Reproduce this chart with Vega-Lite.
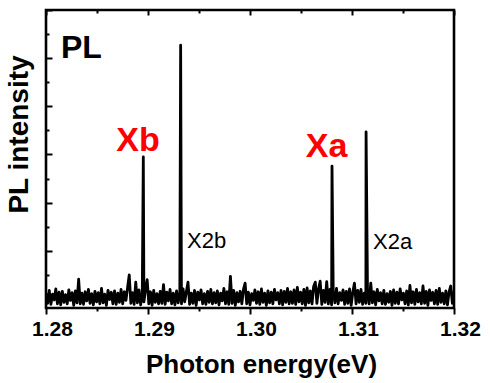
{
"$schema": "https://vega.github.io/schema/vega-lite/v6.json",
"width": 408, "height": 298,
"autosize": {"type": "none"},
"padding": {"left": 46, "top": 10, "right": 36, "bottom": 75},
"background": "white",
"config": {"view": {"stroke": "black", "strokeWidth": 2.6}, "font": "Liberation Sans"},
"datasets": {
"spec": [
{"e":1.28,"v":0.12},{"e":1.28016,"v":-0.09},{"e":1.28032,"v":0.18},{"e":1.28048,"v":-0.11},{"e":1.28064,"v":0.10},{"e":1.2808,"v":-0.02},{"e":1.28096,"v":0.21},{"e":1.28112,"v":-0.1},{"e":1.28128,"v":0.14},{"e":1.28144,"v":-0.12},
{"e":1.2816,"v":0.16},{"e":1.28176,"v":-0.07},{"e":1.28192,"v":0.09},{"e":1.28208,"v":-0.1},{"e":1.28224,"v":0.19},{"e":1.2824,"v":-0.03},{"e":1.28256,"v":0.13},{"e":1.28272,"v":-0.13},{"e":1.28288,"v":0.17},{"e":1.28304,"v":-0.08},
{"e":1.2832,"v":0.41},{"e":1.28336,"v":-0.1},{"e":1.28352,"v":0.12},{"e":1.28368,"v":-0.11},{"e":1.28384,"v":0.15},{"e":1.284,"v":-0.04},{"e":1.28416,"v":0.2},{"e":1.28432,"v":-0.09},{"e":1.28448,"v":0.11},{"e":1.28464,"v":-0.12},
{"e":1.2848,"v":0.16},{"e":1.28496,"v":-0.06},{"e":1.28512,"v":0.13},{"e":1.28528,"v":-0.1},{"e":1.28544,"v":0.22},{"e":1.2856,"v":-0.08},{"e":1.28576,"v":0.1},{"e":1.28592,"v":-0.13},{"e":1.28608,"v":0.18},{"e":1.28624,"v":-0.01},
{"e":1.2864,"v":0.14},{"e":1.28656,"v":-0.1},{"e":1.28672,"v":0.17},{"e":1.28688,"v":-0.11},{"e":1.28704,"v":0.12},{"e":1.2872,"v":-0.07},{"e":1.28736,"v":0.2},{"e":1.28752,"v":-0.1},{"e":1.28768,"v":0.15},{"e":1.28784,"v":-0.03},
{"e":1.288,"v":0.24},{"e":1.28816,"v":0.5},{"e":1.28832,"v":-0.09},{"e":1.28848,"v":0.13},{"e":1.28864,"v":-0.11},{"e":1.2888,"v":0.35},{"e":1.28896,"v":-0.08},{"e":1.28912,"v":0.19},{"e":1.28928,"v":-0.12},{"e":1.28944,"v":0.12},
{"e":1.28954,"v":2.95},
{"e":1.2896,"v":-0.06},{"e":1.28976,"v":0.2},{"e":1.28992,"v":0.4},{"e":1.29008,"v":-0.1},{"e":1.29024,"v":0.15},{"e":1.2904,"v":-0.13},{"e":1.29056,"v":0.18},{"e":1.29072,"v":-0.07},{"e":1.29088,"v":0.11},{"e":1.29104,"v":-0.1},
{"e":1.2912,"v":0.16},{"e":1.29136,"v":-0.09},{"e":1.29152,"v":0.3},{"e":1.29168,"v":-0.11},{"e":1.29184,"v":0.14},{"e":1.292,"v":-0.04},{"e":1.29216,"v":0.2},{"e":1.29232,"v":-0.1},{"e":1.29248,"v":0.12},{"e":1.29264,"v":-0.12},
{"e":1.2928,"v":0.17},{"e":1.29296,"v":-0.08},{"e":1.29312,"v":0.13},
{"e":1.2932,"v":5.27},
{"e":1.29328,"v":-0.1},{"e":1.29344,"v":0.21},{"e":1.2936,"v":-0.06},{"e":1.29376,"v":0.15},{"e":1.29392,"v":0.35},{"e":1.29408,"v":-0.11},{"e":1.29424,"v":0.12},
{"e":1.2944,"v":-0.09},{"e":1.29456,"v":0.18},{"e":1.29472,"v":-0.13},{"e":1.29488,"v":0.14},{"e":1.29504,"v":-0.02},{"e":1.2952,"v":0.19},{"e":1.29536,"v":-0.1},{"e":1.29552,"v":0.11},{"e":1.29568,"v":-0.11},{"e":1.29584,"v":0.16},
{"e":1.296,"v":-0.07},{"e":1.29616,"v":0.2},{"e":1.29632,"v":-0.1},{"e":1.29648,"v":0.13},{"e":1.29664,"v":-0.08},{"e":1.2968,"v":0.17},{"e":1.29696,"v":-0.12},{"e":1.29712,"v":0.12},{"e":1.29728,"v":-0.04},{"e":1.29744,"v":0.22},
{"e":1.2976,"v":-0.1},{"e":1.29776,"v":0.15},{"e":1.29792,"v":-0.11},{"e":1.29808,"v":0.47},{"e":1.29824,"v":-0.09},{"e":1.2984,"v":0.18},{"e":1.29856,"v":-0.13},{"e":1.29872,"v":0.13},{"e":1.29888,"v":-0.06},{"e":1.29904,"v":0.16},
{"e":1.2992,"v":-0.1},{"e":1.29936,"v":0.2},{"e":1.29952,"v":0.33},{"e":1.29968,"v":-0.1},{"e":1.29984,"v":0.14},{"e":1.3,"v":-0.12},{"e":1.30016,"v":0.11},{"e":1.30032,"v":-0.03},{"e":1.30048,"v":0.19},{"e":1.30064,"v":-0.09},
{"e":1.3008,"v":0.15},{"e":1.30096,"v":-0.11},{"e":1.30112,"v":0.21},{"e":1.30128,"v":-0.07},{"e":1.30144,"v":0.12},{"e":1.3016,"v":-0.13},{"e":1.30176,"v":0.17},{"e":1.30192,"v":-0.08},{"e":1.30208,"v":0.14},{"e":1.30224,"v":-0.1},
{"e":1.3024,"v":0.2},{"e":1.30256,"v":-0.02},{"e":1.30272,"v":0.13},{"e":1.30288,"v":-0.1},{"e":1.30304,"v":0.18},{"e":1.3032,"v":-0.12},{"e":1.30336,"v":0.16},{"e":1.30352,"v":-0.07},{"e":1.30368,"v":0.22},{"e":1.30384,"v":-0.1},
{"e":1.304,"v":0.15},{"e":1.30416,"v":-0.09},{"e":1.30432,"v":0.19},{"e":1.30448,"v":-0.11},{"e":1.30464,"v":0.24},{"e":1.3048,"v":-0.06},{"e":1.30496,"v":0.14},{"e":1.30512,"v":-0.1},{"e":1.30528,"v":0.2},{"e":1.30544,"v":-0.13},
{"e":1.3056,"v":0.23},{"e":1.30576,"v":-0.08},{"e":1.30592,"v":0.17},{"e":1.30608,"v":-0.1},{"e":1.30624,"v":0.26},{"e":1.3064,"v":0.35},{"e":1.30656,"v":-0.09},{"e":1.30672,"v":0.21},{"e":1.30688,"v":0.37},{"e":1.30704,"v":-0.11},
{"e":1.3072,"v":0.18},{"e":1.30736,"v":-0.07},{"e":1.30752,"v":0.36},{"e":1.30768,"v":-0.1},{"e":1.30784,"v":0.2},{"e":1.308,"v":-0.12},
{"e":1.30804,"v":2.76},
{"e":1.30816,"v":0.15},{"e":1.30832,"v":-0.08},{"e":1.30848,"v":0.22},{"e":1.30864,"v":-0.1},
{"e":1.3088,"v":0.13},{"e":1.30896,"v":-0.03},{"e":1.30912,"v":0.19},{"e":1.30928,"v":-0.11},{"e":1.30944,"v":0.16},{"e":1.3096,"v":-0.09},{"e":1.30976,"v":0.21},{"e":1.30992,"v":-0.13},{"e":1.31008,"v":0.14},{"e":1.31024,"v":0.33},
{"e":1.3104,"v":-0.1},{"e":1.31056,"v":0.18},{"e":1.31072,"v":-0.07},{"e":1.31088,"v":0.2},{"e":1.31104,"v":-0.11},{"e":1.3112,"v":0.12},{"e":1.31136,"v":-0.09},
{"e":1.31138,"v":3.47},
{"e":1.31152,"v":0.17},{"e":1.31168,"v":-0.1},{"e":1.31184,"v":0.33},
{"e":1.312,"v":-0.08},{"e":1.31216,"v":0.15},{"e":1.31232,"v":-0.12},{"e":1.31248,"v":0.2},{"e":1.31264,"v":-0.04},{"e":1.3128,"v":0.13},{"e":1.31296,"v":-0.1},{"e":1.31312,"v":0.18},{"e":1.31328,"v":-0.11},{"e":1.31344,"v":0.11},
{"e":1.3136,"v":-0.07},{"e":1.31376,"v":0.16},{"e":1.31392,"v":-0.13},{"e":1.31408,"v":0.19},{"e":1.31424,"v":-0.09},{"e":1.3144,"v":0.14},{"e":1.31456,"v":-0.1},{"e":1.31472,"v":0.21},{"e":1.31488,"v":-0.02},{"e":1.31504,"v":0.12},
{"e":1.3152,"v":-0.1},{"e":1.31536,"v":0.17},{"e":1.31552,"v":-0.12},{"e":1.31568,"v":0.28},{"e":1.31584,"v":-0.08},{"e":1.316,"v":0.15},{"e":1.31616,"v":-0.11},{"e":1.31632,"v":0.2},{"e":1.31648,"v":-0.06},{"e":1.31664,"v":0.13},
{"e":1.3168,"v":-0.1},{"e":1.31696,"v":0.27},{"e":1.31712,"v":-0.09},{"e":1.31728,"v":0.16},{"e":1.31744,"v":-0.13},{"e":1.3176,"v":0.19},{"e":1.31776,"v":-0.03},{"e":1.31792,"v":0.14},{"e":1.31808,"v":-0.1},{"e":1.31824,"v":0.18},
{"e":1.3184,"v":-0.11},{"e":1.31856,"v":0.22},{"e":1.31872,"v":-0.07},{"e":1.31888,"v":0.12},{"e":1.31904,"v":-0.1},{"e":1.3192,"v":0.17},{"e":1.31936,"v":-0.12},{"e":1.31952,"v":0.15},{"e":1.31968,"v":0.27},{"e":1.31984,"v":-0.09},
{"e":1.32,"v":0.16}
],
"red": [{"e":1.28902,"v":3.07,"t":"Xb"},{"e":1.3075,"v":2.95,"t":"Xa"}],
"blk": [{"e":1.293824,"v":1.06,"t":"X2b"},{"e":1.312059,"v":1.04,"t":"X2a"}],
"pl": [{"e":1.28147,"v":5.0,"t":"PL"}]
},
"layer": [
{"data": {"name": "spec"},
 "mark": {"type": "line", "color": "black", "strokeWidth": 2.8, "clip": true, "strokeJoin": "round"},
 "encoding": {
  "x": {"field": "e", "type": "quantitative",
   "scale": {"domain": [1.28, 1.32], "nice": false, "zero": false},
   "axis": {"orient": "bottom", "values": [1.28,1.285,1.29,1.295,1.3,1.305,1.31,1.315,1.32],
    "labelExpr": "round(datum.value*1000) % 10 === 0 ? format(datum.value, '.2f') : ''",
    "labelFont": "Liberation Sans", "labelFontSize": 21, "labelFontWeight": "bold", "labelColor": "black",
    "labelFlush": false, "labelPadding": 4, "labelOffset": 6,
    "tickSize": {"condition": {"test": "round(datum.value*1000) % 10 === 0", "value": 6}, "value": 3},
    "tickWidth": 2, "tickColor": "black", "domain": false, "grid": false,
    "title": "Photon energy(eV)", "titleFont": "Liberation Sans", "titleFontSize": 26, "titleFontWeight": "bold",
    "titleColor": "black", "titlePadding": 12, "titleX": 215}},
  "y": {"field": "v", "type": "quantitative",
   "scale": {"domain": [-0.187, 6], "nice": false, "zero": false},
   "axis": {"orient": "left", "values": [0,0.5,1,1.5,2,2.5,3,3.5,4,4.5,5,5.5,6], "labels": false,
    "tickSize": {"condition": {"test": "datum.value % 1 === 0", "value": -6}, "value": -3},
    "tickWidth": 2, "tickColor": "black", "domain": false, "grid": false,
    "title": "PL intensity", "titleFont": "Liberation Sans", "titleFontSize": 28, "titleFontWeight": "bold",
    "titleColor": "black", "titlePadding": 12, "titleY": 124}}
 }},
{"data": {"name": "pl"},
 "mark": {"type": "text", "font": "Liberation Sans", "fontWeight": "bold", "fontSize": 32, "align": "left", "baseline": "alphabetic", "color": "black"},
 "encoding": {
  "x": {"field": "e", "type": "quantitative",
   "axis": {"orient": "top", "values": [1.28,1.285,1.29,1.295,1.3,1.305,1.31,1.315,1.32], "labels": false, "title": null,
    "tickSize": {"condition": {"test": "round(datum.value*1000) % 10 === 0", "value": -5}, "value": -3},
    "tickWidth": 2, "tickColor": "black", "domain": false, "grid": false}},
  "y": {"field": "v", "type": "quantitative", "axis": null},
  "text": {"field": "t"}
 }},
{"data": {"name": "red"},
 "mark": {"type": "text", "font": "Liberation Sans", "fontWeight": "bold", "fontSize": 34, "align": "center", "baseline": "alphabetic", "color": "#ff0000"},
 "encoding": {
  "x": {"field": "e", "type": "quantitative", "axis": null},
  "y": {"field": "v", "type": "quantitative", "axis": null},
  "text": {"field": "t"}
 }},
{"data": {"name": "blk"},
 "mark": {"type": "text", "font": "Liberation Sans", "fontSize": 22, "align": "left", "baseline": "alphabetic", "color": "black"},
 "encoding": {
  "x": {"field": "e", "type": "quantitative", "axis": null},
  "y": {"field": "v", "type": "quantitative", "axis": null},
  "text": {"field": "t"}
 }}
],
"resolve": {"axis": {"x": "independent", "y": "independent"}}
}
